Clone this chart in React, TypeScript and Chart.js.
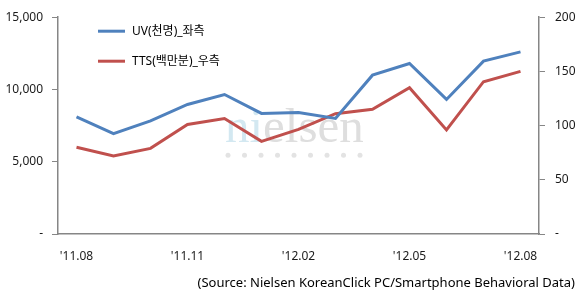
import React, { useEffect, useRef } from "react";
import { Chart, registerables } from "chart.js";

Chart.register(...registerables);

const labels = ["'11.08", "'11.09", "'11.10", "'11.11", "'11.12", "'12.01", "'12.02", "'12.03", "'12.04", "'12.05", "'12.06", "'12.07", "'12.08"];
const uvValues = [8100, 6950, 7830, 8960, 9650, 8340, 8400, 8000, 10990, 11800, 9310, 11960, 12600];
const ttsValues = [80, 72, 79, 101, 106.5, 85.5, 96.5, 111, 115, 135, 96, 140.5, 150];
const uvLabel = "UV(천명)_좌측";
const ttsLabel = "TTS(백만분)_우측";
const sourceText = "(Source: Nielsen KoreanClick PC/Smartphone Behavioral Data)";

const FONT = "'Noto Sans', 'Noto Sans CJK KR', sans-serif";
const BLUE = "#4F81BD";
const RED = "#C0504D";
const AXIS = "#868686";
const TEXT = "#1a1a1a";

const decor = {
  id: "decor",
  beforeDatasetsDraw(chart: any) {
    const { ctx, chartArea } = chart;
    const x0 = chartArea.left + 167;
    const base = chartArea.top + 125;
    ctx.save();
    ctx.font = "49px 'Liberation Serif', serif";
    ctx.textBaseline = "alphabetic";
    ctx.textAlign = "left";
    ctx.fillStyle = "#d3e8f1";
    ctx.fillText("ni", x0, base);
    const w = ctx.measureText("ni").width;
    ctx.fillStyle = "#dedede";
    ctx.fillText("elsen", x0 + w, base);
    ctx.fillStyle = "#e3e3e3";
    for (let i = 0; i < 9; i++) {
      ctx.beginPath();
      ctx.arc(x0 + 3 + i * 16.5, base + 13, 2.5, 0, Math.PI * 2);
      ctx.fill();
    }
    ctx.restore();
  },
  afterDraw(chart: any) {
    const { ctx, chartArea } = chart;
    ctx.save();
    const lx = chartArea.left + 40;
    const rows = [
      { y: chartArea.top + 14, color: BLUE, text: chart.data.datasets[0].label },
      { y: chartArea.top + 44, color: RED, text: chart.data.datasets[1].label },
    ];
    ctx.font = `12px ${FONT}`;
    ctx.textBaseline = "middle";
    ctx.textAlign = "left";
    for (const r of rows) {
      ctx.strokeStyle = r.color;
      ctx.lineWidth = 3;
      ctx.beginPath();
      ctx.moveTo(lx, r.y);
      ctx.lineTo(lx + 27, r.y);
      ctx.stroke();
      ctx.fillStyle = "#000";
      ctx.fillText(r.text, lx + 34, r.y);
    }
    ctx.font = `13px ${FONT}`;
    ctx.textAlign = "right";
    ctx.fillStyle = "#000";
    ctx.fillText(sourceText, chart.width - 7, chartArea.bottom + 49);
    ctx.restore();
  },
};

export default function App() {
  const ref = useRef<HTMLCanvasElement | null>(null);
  useEffect(() => {
    if (!ref.current) return;
    const chart = new Chart(ref.current, {
      type: "line",
      data: {
        labels,
        datasets: [
          {
            label: uvLabel,
            data: uvValues,
            borderColor: BLUE,
            backgroundColor: BLUE,
            borderWidth: 3,
            pointRadius: 0,
            tension: 0,
            yAxisID: "y",
          },
          {
            label: ttsLabel,
            data: ttsValues,
            borderColor: RED,
            backgroundColor: RED,
            borderWidth: 3,
            pointRadius: 0,
            tension: 0,
            yAxisID: "y1",
          },
        ],
      },
      options: {
        responsive: false,
        animation: false,
        devicePixelRatio: 1,
        layout: { padding: { top: 17, left: 0, right: 0, bottom: 0 } },
        plugins: { legend: { display: false }, tooltip: { enabled: false } },
        scales: {
          x: {
            type: "category",
            offset: true,
            grid: { display: false },
            border: { display: true, color: AXIS, width: 1.5 },
            ticks: {
              autoSkip: false,
              maxRotation: 0,
              padding: 7,
              color: TEXT,
              font: { family: FONT, size: 12 },
              callback: (_v: any, i: number) => (i % 3 === 0 ? labels[i] : ""),
            },
            afterFit: (s: any) => { s.height = 72; },
          },
          y: {
            position: "left",
            min: 0,
            max: 15000,
            grid: { drawOnChartArea: false, drawTicks: true, tickLength: 6, color: AXIS },
            border: { display: true, color: AXIS, width: 1.5 },
            ticks: {
              stepSize: 5000,
              padding: 9,
              color: TEXT,
              font: { family: FONT, size: 12 },
              callback: (v: any) => (v === 0 ? "-" : Number(v).toLocaleString("en-US")),
            },
            afterFit: (s: any) => { s.width = 58; },
          },
          y1: {
            position: "right",
            min: 0,
            max: 200,
            grid: { drawOnChartArea: false, drawTicks: true, tickLength: 6, color: AXIS },
            border: { display: true, color: AXIS, width: 1.5 },
            ticks: {
              stepSize: 50,
              padding: 10,
              color: TEXT,
              font: { family: FONT, size: 12 },
              callback: (v: any) => (v === 0 ? "-" : String(v)),
            },
            afterFit: (s: any) => { s.width = 43; },
          },
        },
      },
      plugins: [decor],
    } as any);
    return () => chart.destroy();
  }, []);
  return (
    <div style={{ position: "absolute", left: 0, top: 0, width: 582, height: 306, background: "#fff" }}>
      <canvas ref={ref} width={582} height={306} />
    </div>
  );
}
